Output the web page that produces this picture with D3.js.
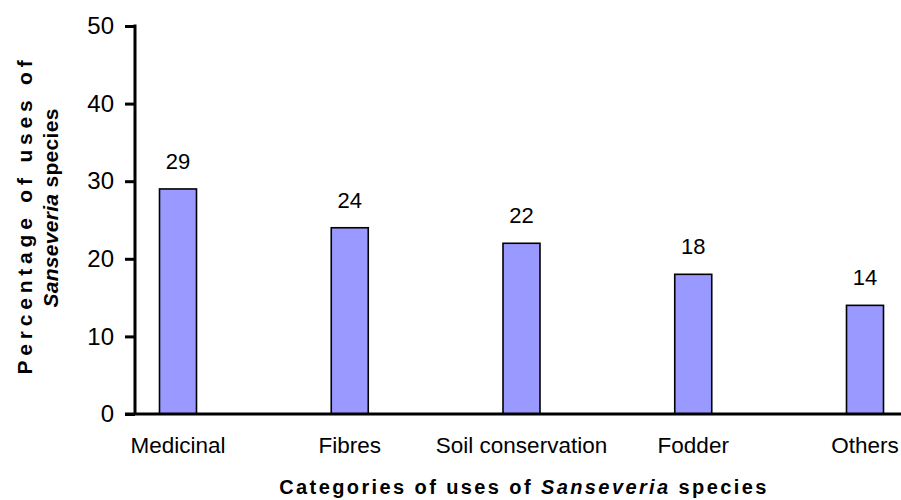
<!DOCTYPE html>
<html><head><meta charset="utf-8">
<script src="https://cdn.jsdelivr.net/npm/d3@7"></script>
<style>
body{margin:0;background:#fff;}
text{font-family:"Liberation Sans",Arial,sans-serif;fill:#000;}
</style></head>
<body><svg id="c" width="901" height="500"></svg>
<script>
const categories = ["Medicinal","Fibres","Soil conservation","Fodder","Others"];
const values = [29,24,22,18,14];
const yTicks = [0,10,20,30,40,50];

const svg = d3.select("#c");
const x0 = 135, yBase = 414, yTop = 26;
const y = d3.scaleLinear().domain([0,50]).range([yBase,yTop]);
const x = d3.scalePoint().domain(categories).range([178,865]);
const bw = 37;

// bars
svg.selectAll("rect.bar").data(values).enter().append("rect")
  .attr("x",(d,i)=>x(categories[i])-bw/2).attr("y",d=>y(d))
  .attr("width",bw).attr("height",d=>yBase-y(d))
  .attr("fill","#9999ff").attr("stroke","#000").attr("stroke-width",1.6);

// value labels
svg.selectAll("text.val").data(values).enter().append("text")
  .attr("x",(d,i)=>x(categories[i])).attr("y",d=>y(d)-20)
  .attr("text-anchor","middle").style("font-size","22px").text(d=>d);

// y axis
const yAxis = d3.axisLeft(y).tickValues(yTicks).tickSize(10).tickPadding(11);
const gy = svg.append("g").attr("transform",`translate(${x0},0)`).call(yAxis);
gy.select(".domain").attr("stroke","#000").attr("stroke-width",3).attr("d",`M0,${yTop-1.5}V${yBase}`);
gy.selectAll(".tick line").attr("stroke","#000").attr("stroke-width",3);
gy.selectAll(".tick text").style("font-size","24px").style("font-family","Liberation Sans, Arial, sans-serif").attr("fill","#000");

// x axis line
svg.append("line").attr("x1",125).attr("x2",901).attr("y1",yBase).attr("y2",yBase)
  .attr("stroke","#000").attr("stroke-width",3);

// x labels
svg.selectAll("text.cat").data(categories).enter().append("text")
  .attr("x",d=>x(d)).attr("y",453).attr("text-anchor","middle")
  .style("font-size","22.5px").text(d=>d);

// x title
const xt = svg.append("text").attr("x",524).attr("y",494).attr("text-anchor","middle")
  .style("font-size","20px").style("font-weight","bold").style("letter-spacing","2.4px");
xt.append("tspan").text("Categories of uses of ");
xt.append("tspan").style("font-style","italic").text("Sanseveria");
xt.append("tspan").text(" species");

// y title
svg.append("g").attr("transform","translate(0,215) rotate(-90)")
  .append("text").attr("x",0).attr("y",32).attr("text-anchor","middle")
  .style("font-size","21px").style("font-weight","bold").style("letter-spacing","4.8px")
  .text("Percentage of uses of");
const yt2 = svg.append("g").attr("transform","translate(0,208) rotate(-90)")
  .append("text").attr("x",0).attr("y",57.5).attr("text-anchor","middle")
  .style("font-size","21px").style("font-weight","bold").style("letter-spacing","0.3px");
yt2.append("tspan").style("font-style","italic").text("Sanseveria");
yt2.append("tspan").text(" species");
</script></body></html>
